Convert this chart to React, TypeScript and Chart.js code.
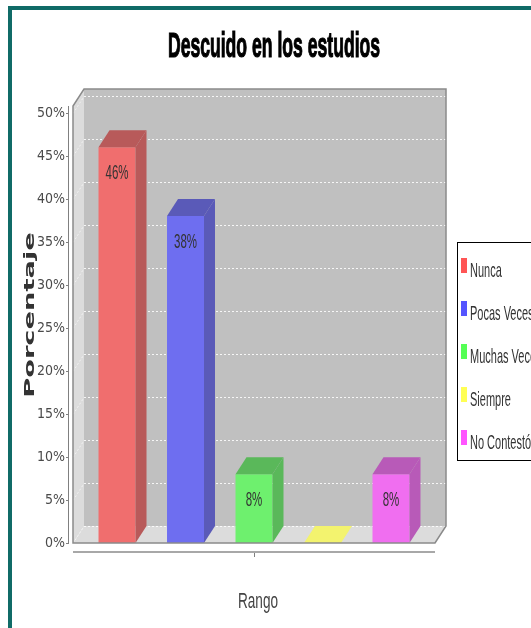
import React, { useEffect, useRef } from "react";
import { Chart, registerables } from "chart.js";

Chart.register(...registerables);

const TITLE = "Descuido en los estudios";
const Y_TITLE = "Porcentaje";
const X_TITLE = "Rango";
const CATEGORIES = [""];
const SERIES = ["Nunca", "Pocas Veces", "Muchas Veces", "Siempre", "No Contestó"];
const VALUES = [46, 38, 8, 0, 8];
const Y_MAX = 50.8;
const Y_STEP = 5;

const FRONT = ["#f06e6e", "#6e6ef0", "#6ef06e", "#f3f36e", "#f06ef0"];
const SIDE = ["#b85a5a", "#5a5ab8", "#5ab85a", "#b8b85a", "#b85ab8"];
const SWATCH = ["#ff5555", "#5555ff", "#55ff55", "#ffff55", "#ff55ff"];

const SANS = "'Liberation Sans', Arial, sans-serif";
const NARROW = "'Liberation Sans Narrow', 'DejaVu Sans Condensed', 'Liberation Sans', sans-serif";
const DX = 11;
const DY = 17;

function stretchText(
  ctx: CanvasRenderingContext2D,
  text: string,
  x: number,
  y: number,
  font: string,
  sx: number,
  sy: number,
  align: CanvasTextAlign,
  baseline: CanvasTextBaseline,
  color: string,
  rot = 0,
  stroke = 0
) {
  ctx.save();
  ctx.translate(x, y);
  if (rot) ctx.rotate(rot);
  ctx.scale(sx, sy);
  ctx.font = font;
  ctx.textAlign = align;
  ctx.textBaseline = baseline;
  ctx.fillStyle = color;
  ctx.fillText(text, 0, 0);
  if (stroke > 0) {
    ctx.strokeStyle = color;
    ctx.lineWidth = stroke;
    ctx.strokeText(text, 0, 0);
  }
  ctx.restore();
}

const decor = {
  id: "decor3d",
  beforeDraw(chart: any) {
    const ctx: CanvasRenderingContext2D = chart.ctx;
    const W = chart.width;
    const H = chart.height;
    ctx.save();
    ctx.fillStyle = "#ffffff";
    ctx.fillRect(0, 0, W, H);
    // teal frame
    ctx.fillStyle = "#106b67";
    ctx.fillRect(8, 6, 4, H - 6);
    ctx.fillRect(8, 6, W - 8, 4);
    ctx.restore();

    stretchText(ctx, TITLE, 274, 57, `bold 17.6px ${SANS}`, 1, 1.98, "center", "alphabetic", "#000000", 0, 0.6);
    stretchText(ctx, Y_TITLE, 30, 315, `bold 14px 'DejaVu Sans', sans-serif`, 1.95, 1, "center", "middle", "#333333", -Math.PI / 2);
    stretchText(ctx, X_TITLE, 258, 608, `13.6px ${SANS}`, 1, 1.65, "center", "alphabetic", "#444444");

    // legend
    ctx.save();
    ctx.fillStyle = "#ffffff";
    ctx.fillRect(457.5, 242.5, 120, 218);
    ctx.strokeStyle = "#000000";
    ctx.lineWidth = 1;
    ctx.strokeRect(457.5, 242.5, 120, 218);
    ctx.restore();
    SERIES.forEach((name, i) => {
      const cy = 265.5 + i * 43;
      ctx.fillStyle = SWATCH[i];
      ctx.fillRect(461, cy - 7.5, 6, 15);
      stretchText(ctx, name, 470, cy + 11, `11px ${SANS}`, 1, 1.9, "left", "alphabetic", "#333333");
    });
  },
  beforeDatasetsDraw(chart: any) {
    const ctx: CanvasRenderingContext2D = chart.ctx;
    const { left: L, right: R, top: T, bottom: B } = chart.chartArea;
    const y = chart.scales.y;
    const x = chart.scales.x;
    ctx.save();
    // back wall
    ctx.fillStyle = "#c0c0c0";
    ctx.fillRect(L + DX, T - DY, R - L, B - T);
    // left wall
    ctx.fillStyle = "#dcdcdc";
    ctx.beginPath();
    ctx.moveTo(L, T);
    ctx.lineTo(L + DX, T - DY);
    ctx.lineTo(L + DX, B - DY);
    ctx.lineTo(L, B);
    ctx.closePath();
    ctx.fill();
    // floor
    ctx.beginPath();
    ctx.moveTo(L, B);
    ctx.lineTo(L + DX, B - DY);
    ctx.lineTo(R + DX, B - DY);
    ctx.lineTo(R, B);
    ctx.closePath();
    ctx.fill();
    // gridlines on back wall and left wall
    ctx.lineWidth = 1;
    ctx.setLineDash([2, 2]);
    y.ticks.forEach((t: any) => {
      const py = Math.round(y.getPixelForValue(t.value)) + 0.5;
      ctx.strokeStyle = "rgba(255,255,255,0.85)";
      ctx.beginPath();
      ctx.moveTo(L + DX, py - DY);
      ctx.lineTo(R + DX, py - DY);
      ctx.stroke();
      ctx.strokeStyle = "rgba(255,255,255,0.6)";
      ctx.beginPath();
      ctx.moveTo(L, py);
      ctx.lineTo(L + DX, py - DY);
      ctx.stroke();
    });
    ctx.setLineDash([]);
    // y axis line and ticks
    ctx.strokeStyle = "#808080";
    ctx.beginPath();
    ctx.moveTo(L - 4.5, T);
    ctx.lineTo(L - 4.5, B);
    ctx.stroke();
    y.ticks.forEach((t: any) => {
      const py = Math.round(y.getPixelForValue(t.value)) + 0.5;
      ctx.beginPath();
      ctx.moveTo(L - 7, py);
      ctx.lineTo(L - 4, py);
      ctx.stroke();
    });
    // x axis line and tick
    ctx.strokeStyle = "#a8a8a8";
    ctx.lineWidth = 2;
    ctx.beginPath();
    ctx.moveTo(L, B + 9);
    ctx.lineTo(R, B + 9);
    ctx.stroke();
    const cx = Math.round(x.getPixelForValue(0)) + 0.5;
    ctx.lineWidth = 1;
    ctx.strokeStyle = "#808080";
    ctx.beginPath();
    ctx.moveTo(cx, B + 10);
    ctx.lineTo(cx, B + 14);
    ctx.stroke();
    ctx.restore();
  },
  afterDatasetsDraw(chart: any) {
    const ctx: CanvasRenderingContext2D = chart.ctx;
    const { left: L, right: R, top: T, bottom: B } = chart.chartArea;
    ctx.save();
    VALUES.forEach((v, i) => {
      const bar: any = chart.getDatasetMeta(i).data[0];
      if (!bar) return;
      const bl = bar.x - bar.width / 2;
      const br = bar.x + bar.width / 2;
      const bt = bar.y;
      const bb = bar.base;
      // side face
      if (bb - bt > 0.5) {
        ctx.fillStyle = SIDE[i];
        ctx.beginPath();
        ctx.moveTo(br, bt);
        ctx.lineTo(br + DX, bt - DY);
        ctx.lineTo(br + DX, bb - DY);
        ctx.lineTo(br, bb);
        ctx.closePath();
        ctx.fill();
      }
      // top face
      ctx.fillStyle = bb - bt > 0.5 ? SIDE[i] : FRONT[i];
      ctx.beginPath();
      ctx.moveTo(bl, bt);
      ctx.lineTo(bl + DX, bt - DY);
      ctx.lineTo(br + DX, bt - DY);
      ctx.lineTo(br, bt);
      ctx.closePath();
      ctx.fill();
    });
    // plot outline
    ctx.strokeStyle = "#8a8a8a";
    ctx.lineWidth = 1.5;
    ctx.beginPath();
    ctx.moveTo(L, B);
    ctx.lineTo(L, T);
    ctx.lineTo(L + DX, T - DY);
    ctx.lineTo(R + DX, T - DY);
    ctx.lineTo(R + DX, B - DY);
    ctx.lineTo(R, B);
    ctx.closePath();
    ctx.stroke();
    ctx.restore();
    // value labels
    VALUES.forEach((v, i) => {
      if (v <= 0) return;
      const bar: any = chart.getDatasetMeta(i).data[0];
      if (!bar) return;
      stretchText(ctx, `${v}%`, bar.x, bar.y + 31.5, `11.5px ${SANS}`, 1, 1.82, "center", "alphabetic", "#333333");
    });
  },
};

export default function App() {
  const ref = useRef<HTMLCanvasElement | null>(null);
  useEffect(() => {
    if (!ref.current) return;
    const chart = new Chart(ref.current, {
      type: "bar",
      data: {
        labels: CATEGORIES,
        datasets: SERIES.map((name, i) => ({
          label: name,
          data: [VALUES[i]],
          backgroundColor: FRONT[i],
          borderWidth: 0,
          barPercentage: 0.54,
          categoryPercentage: 0.946,
        })),
      },
      options: {
        responsive: false,
        animation: false,
        devicePixelRatio: 1,
        layout: { padding: { top: 106, right: 96, left: 0, bottom: 0 } },
        plugins: {
          legend: { display: false },
          title: { display: false },
          tooltip: { enabled: false },
        },
        scales: {
          x: {
            type: "category",
            grid: { display: false, drawTicks: false },
            border: { display: false },
            ticks: { display: false },
            afterFit: (s: any) => {
              s.height = 85;
            },
          },
          y: {
            min: 0,
            max: Y_MAX,
            grid: { display: false, drawTicks: false },
            border: { display: false },
            ticks: {
              stepSize: Y_STEP,
              includeBounds: false,
              padding: 8,
              color: "#4a4a4a",
              font: { family: NARROW, size: 14 },
              callback: (v: any) => `${v}%`,
            },
            afterFit: (s: any) => {
              s.width = 73;
            },
          },
        },
      },
      plugins: [decor],
    });
    return () => chart.destroy();
  }, []);
  return (
    <div style={{ position: "absolute", left: 0, top: 0, width: 531, height: 628 }}>
      <canvas ref={ref} width={531} height={628} style={{ display: "block", width: 531, height: 628 }} />
    </div>
  );
}
